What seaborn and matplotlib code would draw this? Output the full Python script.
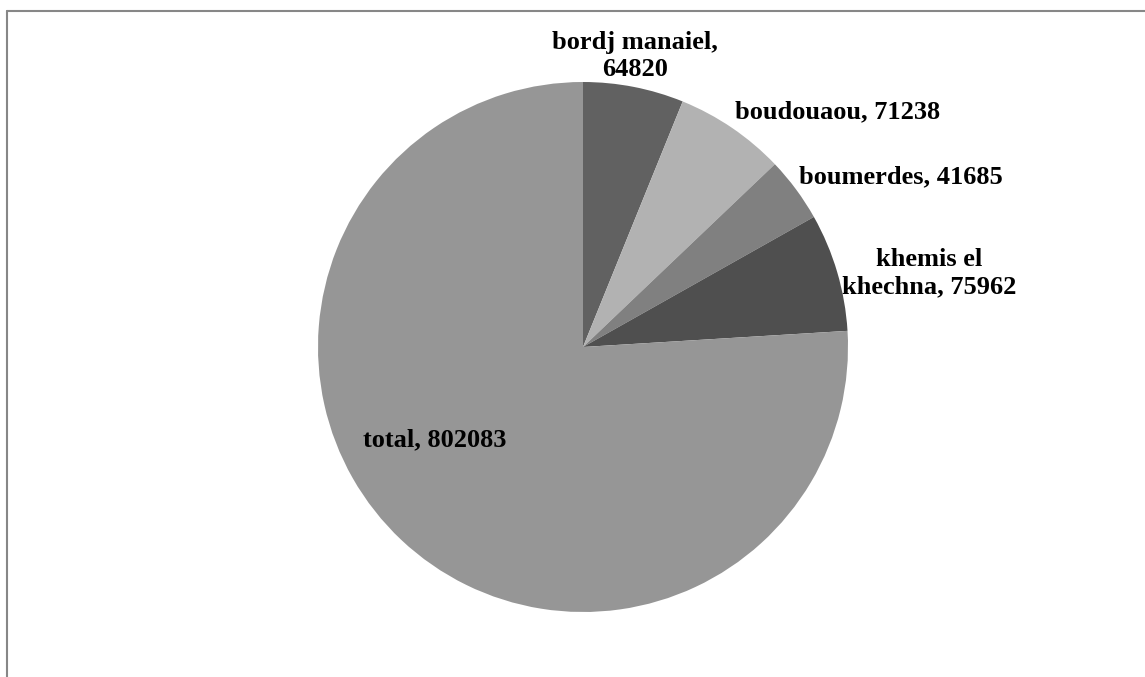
import matplotlib
matplotlib.use("Agg")
import matplotlib.pyplot as plt
import seaborn as sns

# DATA
labels = ["bordj manaiel", "boudouaou", "boumerdes", "khemis el khechna", "total"]
values = [64820, 71238, 41685, 75962, 802083]
label_texts = ["bordj manaiel,\n64820", "boudouaou, 71238", "boumerdes, 41685",
               "khemis el\nkhechna, 75962", "total, 802083"]

# STYLE
sns.set_theme(style="white")
plt.rcParams["font.family"] = ["Liberation Serif", "DejaVu Serif"]
colors = sns.color_palette(["#616161", "#b2b2b2", "#808080", "#4f4f4f", "#969696"])

W, H = 1145, 677
fig = plt.figure(figsize=(W / 100, H / 100), dpi=100)

# pie axes: center (583, 347) px, radius 265 px
cx, cy, r = 583, 347, 265
ax = fig.add_axes([(cx - r) / W, 1 - (cy + r) / H, 2 * r / W, 2 * r / H])
ax.pie(values, colors=colors, startangle=90, counterclock=False,
       radius=1, wedgeprops=dict(linewidth=0))
ax.set_xlim(-1, 1)
ax.set_ylim(-1, 1)
ax.set_aspect("equal")
ax.axis("off")

# label positions in pixels (x, y, ha)
label_pos = [(635, 56, "center"), (735, 112, "left"), (799, 177, "left"),
             (929, 273, "center"), (363, 440, "left")]
for txt, (x, y, ha) in zip(label_texts, label_pos):
    fig.text(x / W, 1 - y / H, txt, ha=ha, va="center", fontsize=19,
             fontweight="bold", color="black", linespacing=1.22)

# chart border (top and left edge visible)
border = dict(color="#878787", linewidth=1.5, transform=fig.transFigure)
fig.add_artist(plt.Line2D([7 / W, 1], [1 - 11 / H, 1 - 11 / H], **border))
fig.add_artist(plt.Line2D([7 / W, 7 / W], [0, 1 - 11 / H], **border))

fig.savefig("out.png", dpi=100, facecolor="white")
